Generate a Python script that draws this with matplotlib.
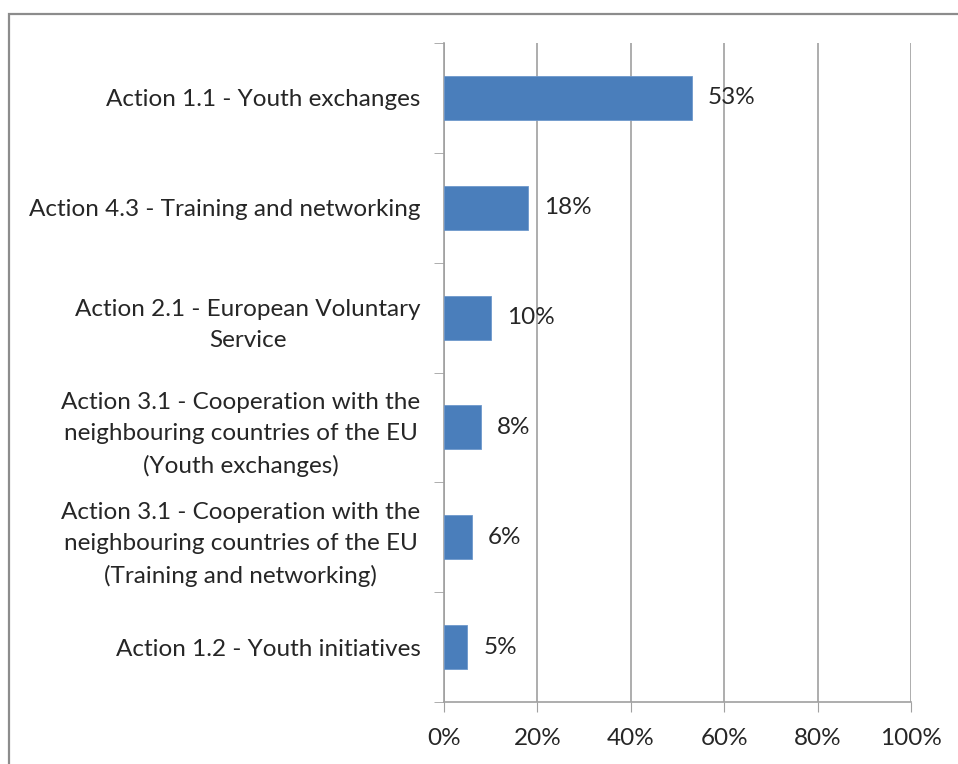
import numpy as np
import matplotlib.pyplot as plt
from matplotlib.patches import Rectangle

categories = [
    'Action 1.1 - Youth exchanges',
    'Action 4.3 - Training and networking',
    'Action 2.1 - European Voluntary\nService',
    'Action 3.1 - Cooperation with the\nneighbouring countries of the EU\n(Youth exchanges)',
    'Action 3.1 - Cooperation with the\nneighbouring countries of the EU\n(Training and networking)',
    'Action 1.2 - Youth initiatives',
]
values = [53, 18, 10, 8, 6, 5]
xticks = [0, 20, 40, 60, 80, 100]

plt.rcParams['font.family'] = ['Lato', 'DejaVu Sans']
txt = '#262626'
grid = '#a0a0a0'
fs = 17.5

fig = plt.figure(figsize=(9.58, 7.64), dpi=100)
fig.patches.append(Rectangle((9/958, -0.1), 1.2, (764-14)/764 + 0.1,
                             transform=fig.transFigure, fill=False,
                             edgecolor='#8c8c8c', lw=1.6))
ax = fig.add_axes([444/958, 1-702/764, (911-444)/958, (702-43)/764])

y = np.arange(len(categories))
ax.barh(y, values, height=0.4, color='#4a7ebb', edgecolor='#6e98cc', lw=0.6, zorder=3)
for yi, v in zip(y, values):
    ax.annotate(f'{v}%', (v, yi), xytext=(16, 0), textcoords='offset pixels',
                va='center', ha='left', fontsize=fs, color=txt, zorder=4)

ax.set_xlim(0, 100)
ax.set_ylim(len(categories) - 0.5, -0.5)
ax.set_xticks(xticks)
ax.set_xticklabels([f'{t}%' for t in xticks])
ax.set_yticks(y)
ax.set_yticklabels(categories)
ax.set_yticks(np.arange(len(categories) + 1) - 0.5, minor=True)
ax.tick_params(axis='y', which='major', length=0, pad=17, labelsize=fs, labelcolor=txt)
ax.tick_params(axis='y', which='minor', length=7, color=grid, direction='out')
ax.tick_params(axis='x', length=7, color=grid, pad=12, labelsize=fs, labelcolor=txt)
for lab in ax.get_yticklabels():
    lab.set_multialignment('center')
    lab.set_linespacing(1.6)

ax.grid(axis='x', color=grid, lw=1.2, zorder=0)
for s in ['top', 'right']:
    ax.spines[s].set_visible(False)
for s in ['left', 'bottom']:
    ax.spines[s].set_color(grid)
    ax.spines[s].set_linewidth(1.2)

fig.savefig('out.png', dpi=100)
